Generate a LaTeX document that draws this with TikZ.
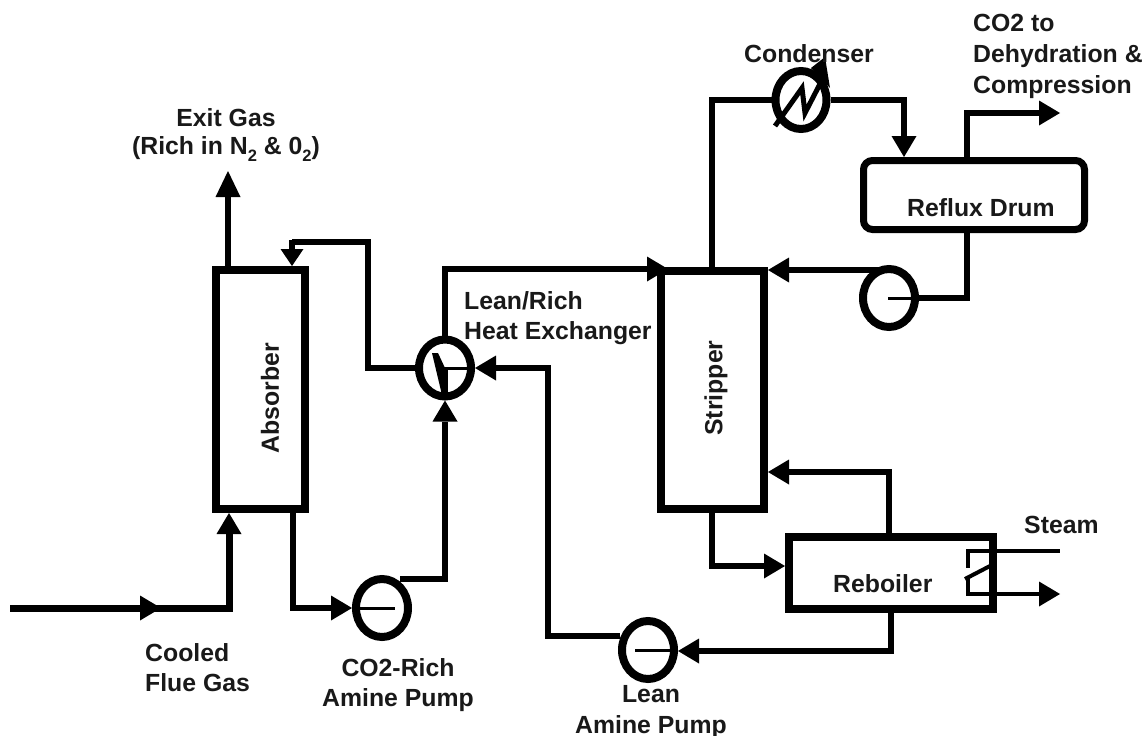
\documentclass[tikz,border=0pt]{standalone}
\usepackage{fontspec}
\setmainfont{Liberation Sans}
\usetikzlibrary{arrows.meta,shapes.geometric}
\tikzset{
  x=1pt,y=-1pt,
  label/.style={font=\fontsize{24.8}{30.8}\selectfont\bfseries,inner sep=0pt,align=left,text=black!90},
  clabel/.style={label,align=center},
  vessel/.style={draw=black,line width=8pt,fill=white,inner sep=0pt,rectangle},
  pipe/.style={draw=black,line width=5.5pt,line join=miter},
  flow/.style={pipe,-{Triangle[length=21pt,width=25pt,line width=0pt]}},
  shortflow/.style={pipe,-{Triangle[length=17pt,width=23pt,line width=0pt]}},
  longflow/.style={pipe,-{Triangle[length=26pt,width=25pt,line width=0pt]}},
  equip/.style={draw=black,line width=8pt,fill=white,ellipse,inner sep=0pt},
  thinline/.style={draw=black,line width=3pt},
}
\newcommand{\subtwo}{\raisebox{-0.28em}{\fontsize{16.5}{16.5}\selectfont 2}}
\begin{document}
\begin{tikzpicture}
\useasboundingbox[fill=white] (0,0) rectangle (1144,736);
% coordinates for the free ends
\coordinate (feedstart) at (10,608);
\coordinate (exitgas) at (228,171);
\coordinate (co2out) at (1060,113);
\coordinate (steamin) at (1060,551);
\coordinate (steamout) at (1060,594);
% vessels
\node[vessel,minimum width=89pt,minimum height=239pt] (absorber) at (260.5,389.5) {};
\node[vessel,minimum width=103pt,minimum height=238pt] (stripper) at (712.5,390) {};
\node[vessel,minimum width=204pt,minimum height=72pt] (reboiler) at (891,573) {};
\node[vessel,rounded corners=9pt,line width=7pt,minimum width=221pt,minimum height=69pt] (drum) at (974,195) {};
% rotating equipment
\node[equip,minimum width=52pt,minimum height=58pt] (richpump) at (382,608) {};
\node[equip,minimum width=52pt,minimum height=58pt] (leanpump) at (648,650) {};
\node[equip,minimum width=52pt,minimum height=58pt] (refluxpump) at (889,298) {};
\node[equip,minimum width=52pt,minimum height=57pt] (hx) at (445,368) {};
\node[equip,minimum width=51pt,minimum height=58pt] (condenser) at (801,100) {};
% connectors
\draw[flow,line width=7pt] (feedstart) -- (229,608) -- (absorber.south -| 229,608);
\path[fill=black] (140,595.5) -- (161,608) -- (140,620.5) -- cycle;
\draw[longflow] (absorber.north -| exitgas) -- (exitgas);
\draw[flow] (absorber.south -| 293,513) -- (293,608) -- (richpump.west);
\draw[flow] (400,579) -- (445,579) -- (hx.south);
\draw[flow] (hx.north) -- (445,269) -- (668,269);
\draw[pipe] (hx.west) -- (368,368) -- (368,242) -- (292,242);
\draw[shortflow] (292,239.5) -- (292,266);
\draw[flow] (620,636) -- (548,636) -- (548,368) -- (hx.east);
\draw[flow] (reboiler.south -| 891,613) -- (891,651) -- (leanpump.east |- 891,651);
\draw[flow] (stripper.south -| 712,513) -- (712,566) -- (reboiler.west |- 712,566);
\draw[flow] (reboiler.north -| 889,533) -- (889,472) -- (stripper.east |- 889,472);
\draw[pipe] (stripper.north -| 712,267) -- (712,100) -- (condenser.west);
\draw[flow] (condenser.east) -- (904,100) -- (drum.north -| 904,100);
\draw[flow] (drum.north -| 967,157) -- (967,113) -- (co2out);
\draw[pipe] (drum.south -| 967,233) -- (967,298) -- (refluxpump.east);
\draw[flow] (889,270) -- (stripper.east |- 889,270);
\draw[pipe,line width=4pt] (reboiler.east |- steamin) -- (steamin);
\draw[flow,line width=4.5pt] (reboiler.east |- steamout) -- (steamout);
% inner symbols
\draw[thinline] (888,298) -- (refluxpump.east);
\draw[thinline] (richpump.west) -- (395,608);
\draw[thinline] (635,650) -- (leanpump.east);
\draw[thinline] (472,368) -- (443,368);
\path[fill=black] (432,353) -- (438,353) -- (445,368) -- (447,395) -- (442,395) -- cycle;
\draw[thinline] (446,368) -- (446,398);
\draw[line width=5pt,line join=miter] (775,126) -- (802,88) -- (805,113) -- (822,80);
\path[fill=black] (825,57) -- (830,88) -- (811,68) -- cycle;
\draw[line width=3.5pt] (993,551) -- (968,551) -- (968,568);
\draw[line width=4pt] (965,579) -- (990,566);
\draw[line width=3.5pt] (968,577) -- (968,594) -- (993,594);
% labels
\node[label,anchor=north] (lexit) at (226,108) {Exit Gas};
\node[label,anchor=north] (lexit2) at (226,136) {(Rich in N\subtwo{} \& 0\subtwo{})};
\node[label,anchor=north west] (lco2) at (973,14) {CO2 to\\Dehydration \&\\Compression};
\node[label,anchor=north west] (lcond) at (744,44) {Condenser};
\node[label,anchor=north west] (ldrum) at (907,198) {Reflux Drum};
\node[label,anchor=north west] (lhx) at (464,291) {Lean/Rich\\Heat Exchanger};
\node[label,anchor=north west] (lsteam) at (1024,516) {Steam};
\node[label,anchor=north west] (lreb) at (833,574) {Reboiler};
\node[label,anchor=north west] (lflue) at (145,643) {Cooled\\Flue Gas};
\node[clabel,anchor=north] (lrich) at (398,658) {CO2-Rich\\Amine Pump};
\node[clabel,anchor=north] (llean) at (651,685) {Lean\\Amine Pump};
\node[label,rotate=90] (labs) at (270,398) {Absorber};
\node[label,rotate=90] (lstr) at (716,388) {Stripper};
\end{tikzpicture}
\end{document}
